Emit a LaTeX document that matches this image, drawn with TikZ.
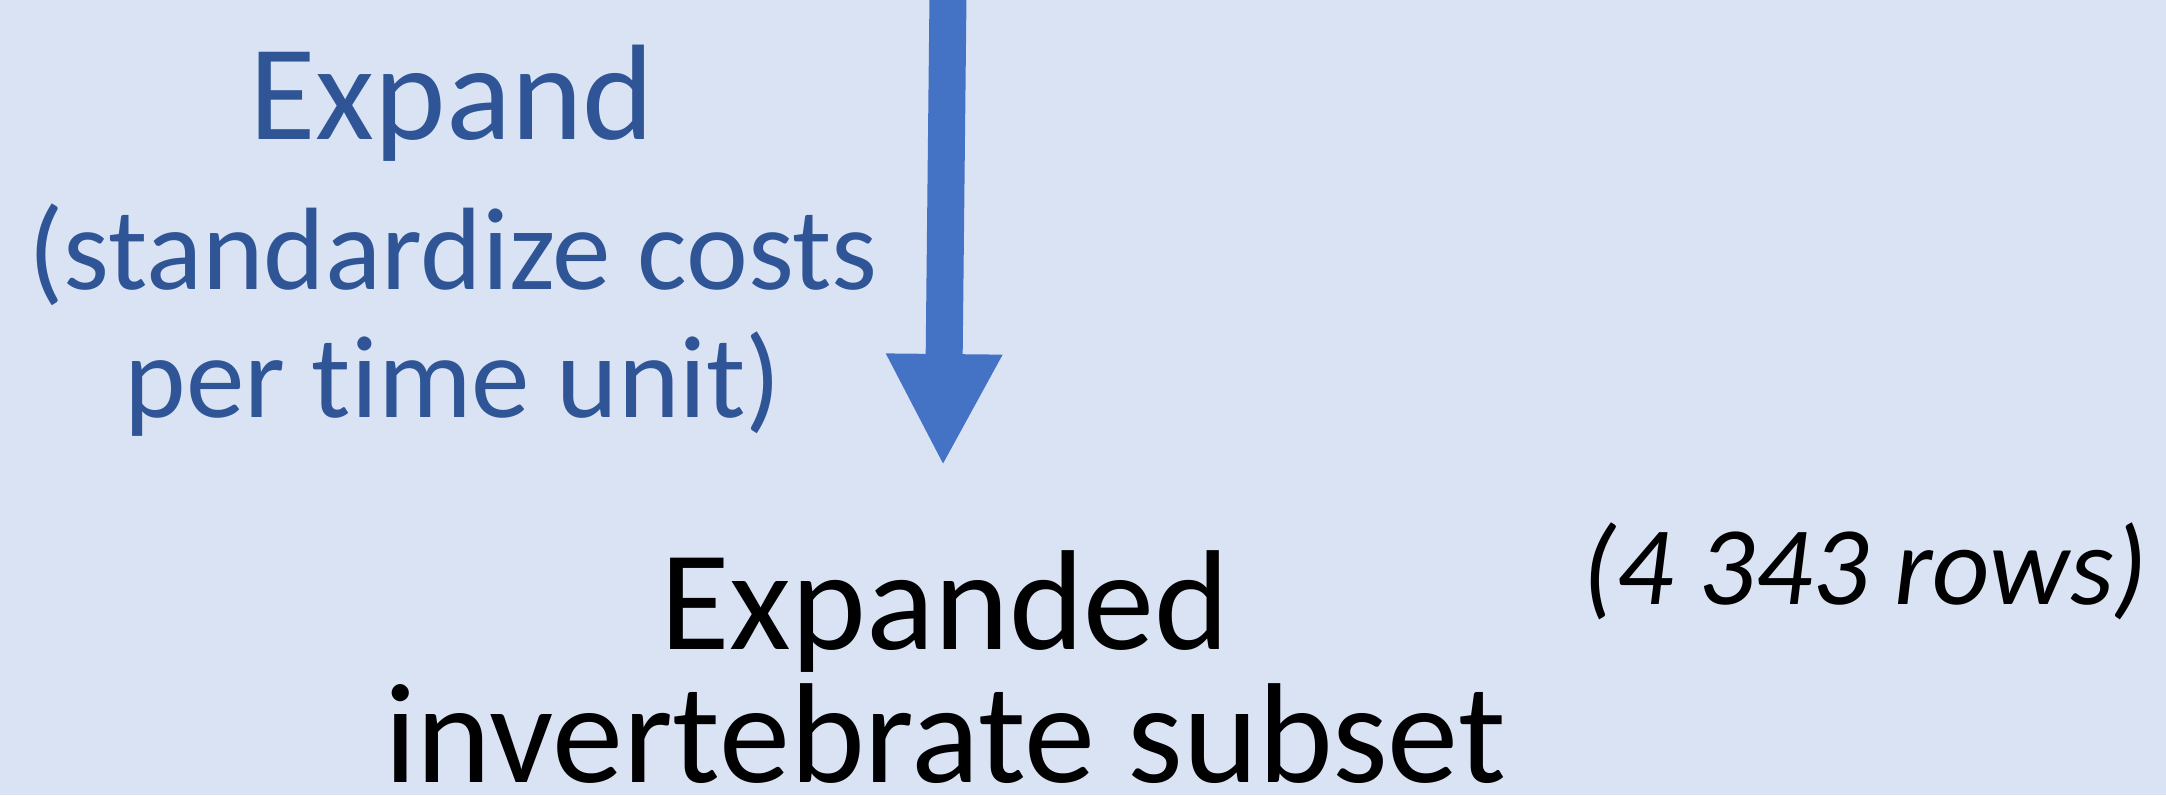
\documentclass[tikz,border=0pt]{standalone}
\usepackage{fontspec}
\setmainfont{Carlito}[Ligatures=NoCommon]
\usetikzlibrary{arrows.meta}
\definecolor{bgblue}{HTML}{DAE3F3}
\definecolor{arrowblue}{HTML}{4472C4}
\definecolor{textblue}{HTML}{2F5597}
\begin{document}
\begin{tikzpicture}[x=0.25pt,y=-0.25pt,
    steplabel/.style={text=textblue,inner sep=0pt,align=center,anchor=base},
    result/.style={inner sep=0pt,align=center,anchor=base}]
  \fill[bgblue] (0,0) rectangle (2166,795);
  \useasboundingbox (0,0) rectangle (2166,795);
  % text blocks, placed at the baseline of their last line
  \node[steplabel,font=\fontsize{34}{37}\selectfont] (expand) at (452,139) {Expand};
  \node[steplabel,font=\fontsize{29.3}{32}\selectfont] (why) at (453,417) {(standardize costs\\per time unit)};
  \node[result,font=\fontsize{35.6}{33.25}\selectfont] (subset) at (945,782) {Expanded\\invertebrate subset};
  \node[anchor=base west,inner sep=0pt,font=\fontsize{28}{34}\selectfont\itshape] (rows) at (1582,604) {(4 343 rows)};
  % block arrow
  \coordinate (top) at (948,-5);
  \coordinate (tip) at (943,466);
  \draw[arrowblue,line width=9.25pt,-{Triangle[width=27pt,length=28pt]}] (top) -- (tip);
\end{tikzpicture}
\end{document}
